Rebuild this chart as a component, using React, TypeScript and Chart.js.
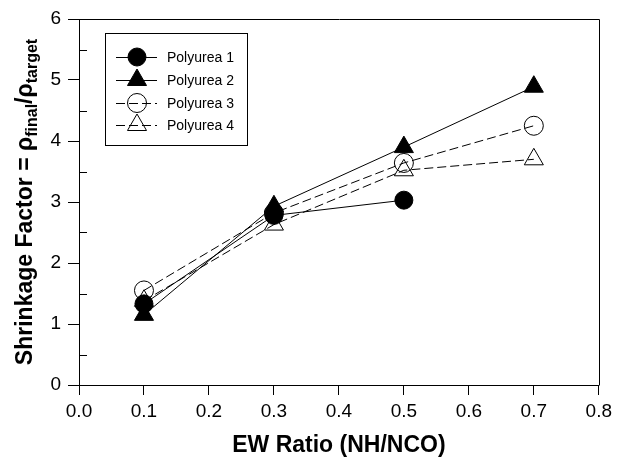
import React, { useEffect, useRef } from 'react';
import { Chart, registerables } from 'chart.js';

Chart.register(...registerables);

// ---- data ----
const xValues = [0.1, 0.3, 0.5, 0.7];
const polyurea1 = [1.33, 2.78, 3.03];
const polyurea2 = [1.15, 2.93, 3.9, 4.89];
const polyurea3 = [1.55, 2.82, 3.64, 4.25];
const polyurea4 = [1.38, 2.63, 3.52, 3.7];
const seriesNames = ['Polyurea 1', 'Polyurea 2', 'Polyurea 3', 'Polyurea 4'];
const xTitle = 'EW Ratio (NH/NCO)';
const yTitleParts = [
  { text: 'Shrinkage Factor = ρ', sub: false },
  { text: 'final', sub: true },
  { text: '/ρ', sub: false },
  { text: 'target', sub: true },
];
const xMin = 0;
const xMax = 0.8;
const xStep = 0.1;
const yMin = 0;
const yMax = 6;
const yStep = 1;
const yMinorStep = 0.5;

const FONT = '"Liberation Sans", Arial, Helvetica, sans-serif';

type Style = { shape: 'circle' | 'triangle'; filled: boolean; r: number; dash: number[] };
const styles: Style[] = [
  { shape: 'circle', filled: true, r: 9, dash: [] },
  { shape: 'triangle', filled: true, r: 11, dash: [] },
  { shape: 'circle', filled: false, r: 9.5, dash: [9, 4] },
  { shape: 'triangle', filled: false, r: 11, dash: [9, 4] },
];

function drawSymbol(ctx: CanvasRenderingContext2D, s: Style, x: number, y: number) {
  ctx.beginPath();
  if (s.shape === 'circle') {
    ctx.arc(x, y, s.r, 0, Math.PI * 2);
  } else {
    let rad = 0;
    ctx.moveTo(x + Math.sin(rad) * s.r, y - Math.cos(rad) * s.r);
    rad += (2 * Math.PI) / 3;
    ctx.lineTo(x + Math.sin(rad) * s.r, y - Math.cos(rad) * s.r);
    rad += (2 * Math.PI) / 3;
    ctx.lineTo(x + Math.sin(rad) * s.r, y - Math.cos(rad) * s.r);
    ctx.closePath();
  }
  if (s.filled) {
    ctx.fillStyle = '#000';
    ctx.fill();
  }
  ctx.setLineDash([]);
  ctx.strokeStyle = '#000';
  ctx.lineWidth = 1;
  ctx.stroke();
}

const framePlugin = {
  id: 'frameAndExtras',
  afterDraw(chart: any) {
    const { ctx, chartArea } = chart;
    const yScale = chart.scales.y;
    ctx.save();
    // frame top & right
    ctx.strokeStyle = '#000';
    ctx.lineWidth = 1;
    ctx.beginPath();
    ctx.moveTo(Math.round(chartArea.left) + 0.5, Math.round(chartArea.top) + 0.5);
    ctx.lineTo(Math.round(chartArea.right) + 0.5, Math.round(chartArea.top) + 0.5);
    ctx.lineTo(Math.round(chartArea.right) + 0.5, Math.round(chartArea.bottom) + 0.5);
    ctx.stroke();
    // minor inward y ticks
    ctx.beginPath();
    for (let v = yMin + yMinorStep; v < yMax; v += yStep) {
      const py = Math.round(yScale.getPixelForValue(v)) + 0.5;
      ctx.moveTo(chartArea.left, py);
      ctx.lineTo(chartArea.left + 8, py);
    }
    ctx.stroke();

    // y title with subscripts
    const mainFont = `bold 23px ${FONT}`;
    const subFont = `bold 16px ${FONT}`;
    let total = 0;
    const widths = yTitleParts.map((p) => {
      ctx.font = p.sub ? subFont : mainFont;
      const w = ctx.measureText(p.text).width;
      total += w;
      return w;
    });
    ctx.translate(32, (chartArea.top + chartArea.bottom) / 2);
    ctx.rotate(-Math.PI / 2);
    ctx.fillStyle = '#000';
    ctx.textBaseline = 'alphabetic';
    ctx.textAlign = 'left';
    let cx = -total / 2;
    yTitleParts.forEach((p, i) => {
      ctx.font = p.sub ? subFont : mainFont;
      ctx.fillText(p.text, cx, p.sub ? 5 : 0);
      cx += widths[i];
    });
    ctx.restore();

    // legend
    ctx.save();
    ctx.strokeStyle = '#000';
    ctx.lineWidth = 1;
    ctx.strokeRect(105.5, 33.5, 142, 112);
    const rows = [57, 80, 103, 125];
    chart.data.datasets.forEach((ds: any, i: number) => {
      const y = rows[i];
      const s = styles[i];
      ctx.beginPath();
      ctx.setLineDash(s.dash);
      ctx.moveTo(116, y + 0.5);
      ctx.lineTo(157, y + 0.5);
      ctx.stroke();
      drawSymbol(ctx, s, 137, y);
      ctx.fillStyle = '#000';
      ctx.font = `14px ${FONT}`;
      ctx.textBaseline = 'middle';
      ctx.textAlign = 'left';
      ctx.fillText(ds.label, 167, y + 1);
    });
    ctx.restore();
  },
};

const seriesValues = [polyurea1, polyurea2, polyurea3, polyurea4];

export default function App() {
  const ref = useRef<HTMLCanvasElement | null>(null);
  useEffect(() => {
    if (!ref.current) return;
    const datasets = seriesValues.map((vals, i) => {
      const s = styles[i];
      return {
        label: seriesNames[i],
        data: vals.map((y, j) => ({ x: xValues[j], y })),
        showLine: true,
        borderColor: '#000',
        borderWidth: 1,
        borderDash: s.dash,
        pointStyle: s.shape,
        pointRadius: s.r,
        pointHoverRadius: s.r,
        pointBorderColor: '#000',
        pointBorderWidth: 1,
        pointBackgroundColor: s.filled ? '#000' : 'rgba(0,0,0,0)',
        clip: false,
      };
    });
    const chart = new Chart(ref.current, {
      type: 'scatter',
      data: { datasets },
      options: {
        responsive: false,
        animation: false,
        layout: { padding: { top: 19, right: 15, left: 0, bottom: 0 } },
        plugins: { legend: { display: false }, tooltip: { enabled: false } },
        scales: {
          x: {
            type: 'linear',
            min: xMin,
            max: xMax,
            afterFit: (scale: any) => {
              scale.height = 72;
            },
            ticks: {
              stepSize: xStep,
              callback: (v: any) => Number(v).toFixed(1),
              font: { family: FONT, size: 19 },
              color: '#000',
              padding: 5,
              maxRotation: 0,
            },
            grid: {
              drawOnChartArea: false,
              drawTicks: true,
              tickLength: 10,
              color: '#000',
              lineWidth: 1,
            },
            border: { display: true, color: '#000', width: 1 },
            title: {
              display: true,
              text: xTitle,
              color: '#000',
              font: { family: FONT, size: 23, weight: 'bold', lineHeight: 1.0 },
              padding: { top: 0, bottom: 0 },
            },
          },
          y: {
            type: 'linear',
            min: yMin,
            max: yMax,
            afterFit: (scale: any) => {
              scale.width = 79;
            },
            ticks: {
              stepSize: yStep,
              callback: (v: any) => String(v),
              font: { family: FONT, size: 19 },
              color: '#000',
              padding: 7,
            },
            grid: {
              drawOnChartArea: false,
              drawTicks: true,
              tickLength: 11,
              color: '#000',
              lineWidth: 1,
            },
            border: { display: true, color: '#000', width: 1 },
          },
        },
      } as any,
      plugins: [framePlugin],
    });
    return () => chart.destroy();
  }, []);
  return (
    <div style={{ position: 'absolute', left: 0, top: 0, width: 617, height: 457, background: '#fff' }}>
      <canvas ref={ref} width={617} height={457} style={{ display: 'block' }} />
    </div>
  );
}
